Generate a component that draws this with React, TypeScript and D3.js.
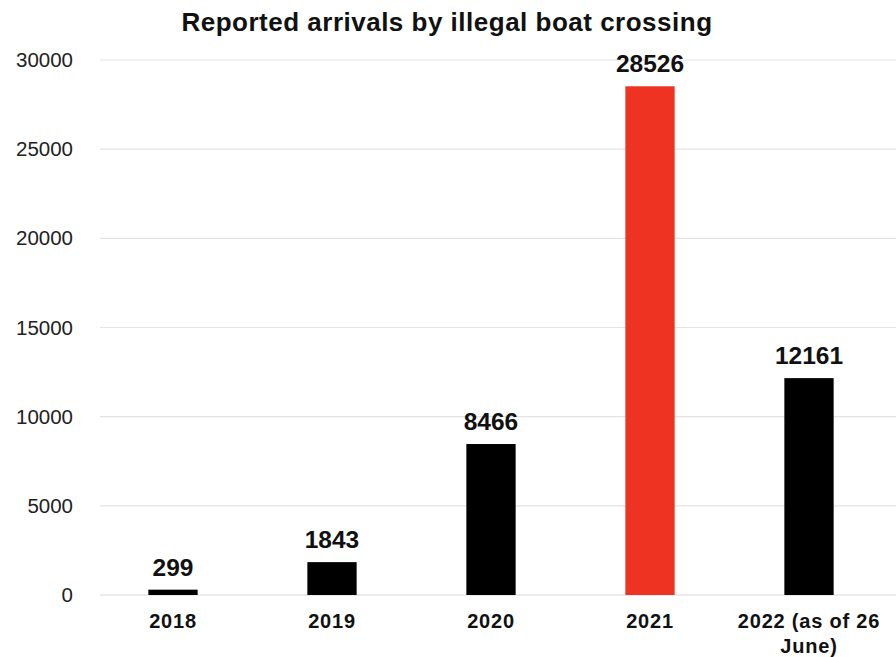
import React from "react";
import * as d3 from "d3";

const categories = ["2018", "2019", "2020", "2021", "2022 (as of 26\nJune)"];
const values = [299, 1843, 8466, 28526, 12161];
const barColors = ["#000000", "#000000", "#000000", "#ee3322", "#000000"];
const yTicks = [0, 5000, 10000, 15000, 20000, 25000, 30000];
const title = "Reported arrivals by illegal boat crossing";

const W = 896;
const H = 657;
const FONT = "'Liberation Sans', Arial, Helvetica, sans-serif";

export default function App() {
  const x = d3
    .scaleBand<string>()
    .domain(categories)
    .range([93.5, 888.5])
    .paddingInner(0.69)
    .paddingOuter(0.345);
  const y = d3.scaleLinear().domain([0, 30000]).range([595, 60]);

  return (
    <svg
      width={W}
      height={H}
      style={{ position: "absolute", left: 0, top: 0, background: "#fff" }}
      fontFamily={FONT}
    >
      <rect x={0} y={0} width={W} height={H} fill="#fff" />
      <text x={447} y={31} textAnchor="middle" fontSize={26} fontWeight="bold" letterSpacing={0.5} fill="#111">
        {title}
      </text>
      {yTicks.map((t) => (
        <g key={t}>
          {t > 0 && (
            <line x1={100} x2={896} y1={y(t)} y2={y(t)} stroke="#e3e3e3" strokeWidth={1.2} />
          )}
          <text x={73} y={y(t) + 7} textAnchor="end" fontSize={20.5} fill="#222">
            {t}
          </text>
        </g>
      ))}
      <line x1={100} x2={896} y1={y(0)} y2={y(0)} stroke="#d8d8d8" strokeWidth={1.2} />
      {categories.map((c, i) => {
        const bx = x(c)!;
        const bw = x.bandwidth();
        const cx = bx + bw / 2;
        const top = y(values[i]);
        const lines = c.split("\n");
        return (
          <g key={c}>
            <rect x={bx} y={top} width={bw} height={y(0) - top} fill={barColors[i]} />
            <text x={cx} y={top - 14} textAnchor="middle" fontSize={24.5} fontWeight="bold" fill="#111">
              {values[i]}
            </text>
            {lines.map((l, j) => (
              <text
                key={j}
                x={cx}
                y={628 + j * 25}
                textAnchor="middle"
                fontSize={20}
                fontWeight="bold"
                letterSpacing={0.8}
                fill="#111"
              >
                {l}
              </text>
            ))}
          </g>
        );
      })}
    </svg>
  );
}
